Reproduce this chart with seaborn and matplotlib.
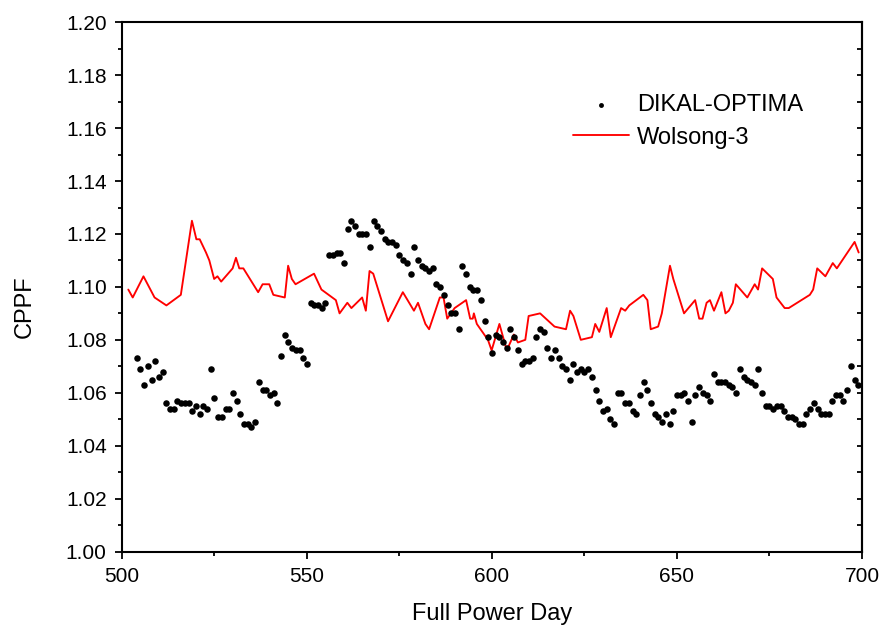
import numpy as np
import pandas as pd
import matplotlib
matplotlib.use("Agg")
import matplotlib.pyplot as plt
import seaborn as sns
from matplotlib.ticker import MultipleLocator, FormatStrFormatter

# DIKAL-OPTIMA: one point per full power day, 504..699
dikal_day = np.arange(504, 700)
dikal_cppf = [
    1.073, 1.069, 1.063, 1.070, 1.065, 1.072, 1.066, 1.068, 1.056, 1.054,
    1.054, 1.057, 1.056, 1.056, 1.056, 1.053, 1.055, 1.052, 1.055, 1.054,
    1.069, 1.058, 1.051, 1.051, 1.054, 1.054, 1.060, 1.057, 1.052, 1.048,
    1.048, 1.047, 1.049, 1.064, 1.061, 1.061, 1.059, 1.060, 1.056, 1.074,
    1.082, 1.079, 1.077, 1.076, 1.076, 1.073, 1.071, 1.094, 1.093, 1.093,
    1.092, 1.094, 1.112, 1.112, 1.113, 1.113, 1.109, 1.122, 1.125, 1.123,
    1.120, 1.120, 1.120, 1.115, 1.125, 1.123, 1.121, 1.118, 1.117, 1.117,
    1.116, 1.112, 1.110, 1.109, 1.105, 1.115, 1.110, 1.108, 1.107, 1.106,
    1.107, 1.101, 1.100, 1.097, 1.093, 1.090, 1.090, 1.084, 1.108, 1.105,
    1.100, 1.099, 1.099, 1.095, 1.087, 1.081, 1.075, 1.082, 1.081, 1.079,
    1.077, 1.084, 1.081, 1.076, 1.071, 1.072, 1.072, 1.073, 1.081, 1.084,
    1.083, 1.077, 1.073, 1.076, 1.073, 1.070, 1.069, 1.065, 1.071, 1.068,
    1.069, 1.068, 1.069, 1.066, 1.061, 1.057, 1.053, 1.054, 1.050, 1.048,
    1.060, 1.060, 1.056, 1.056, 1.053, 1.052, 1.059, 1.064, 1.061, 1.056,
    1.052, 1.051, 1.049, 1.052, 1.048, 1.053, 1.059, 1.059, 1.060, 1.057,
    1.049, 1.059, 1.062, 1.060, 1.059, 1.057, 1.067, 1.064, 1.064, 1.064,
    1.063, 1.062, 1.060, 1.069, 1.066, 1.065, 1.064, 1.063, 1.069, 1.060,
    1.055, 1.055, 1.054, 1.055, 1.055, 1.053, 1.051, 1.051, 1.050, 1.048,
    1.048, 1.052, 1.054, 1.056, 1.054, 1.052, 1.052, 1.052, 1.057, 1.059,
    1.059, 1.057, 1.061, 1.070, 1.065, 1.063,
]

# Wolsong-3 measured CPPF
wolsong_day = [
    501.7, 502.9, 505.8, 508.8, 512.0, 515.9, 518.9, 520.1, 521.0, 522.7,
    523.6, 524.9, 525.8, 526.8, 529.9, 530.8, 531.7, 532.8, 536.8, 538.0,
    539.8, 540.9, 544.0, 544.9, 545.9, 546.9, 551.9, 553.9, 557.8, 558.8,
    560.9, 562.0, 564.9, 565.9, 566.9, 567.9, 571.9, 575.9, 578.9, 580.0,
    582.0, 583.0, 585.9, 586.9, 587.9, 589.9, 593.0, 594.1, 594.8, 595.1,
    595.9, 598.9, 599.9, 602.0, 604.0, 605.9, 607.0, 609.0, 609.9, 613.0,
    616.9, 620.0, 621.1, 622.0, 624.0, 627.0, 627.9, 629.0, 631.0, 632.1,
    634.9, 636.0, 637.1, 640.9, 642.0, 642.9, 644.9, 645.9, 648.1, 649.0,
    651.9, 654.9, 656.0, 656.9, 658.0, 658.9, 660.0, 662.0, 663.1, 664.0,
    665.1, 665.9, 669.0, 671.0, 671.9, 673.0, 675.9, 676.9, 679.1, 680.2,
    685.9, 686.8, 687.9, 690.1, 692.1, 693.2, 698.0, 699.1,
]
wolsong_cppf = [
    1.099, 1.096, 1.104, 1.096, 1.093, 1.097, 1.125, 1.118, 1.118, 1.113,
    1.110, 1.103, 1.104, 1.102, 1.107, 1.111, 1.107, 1.107, 1.098, 1.101,
    1.101, 1.097, 1.096, 1.108, 1.103, 1.101, 1.105, 1.099, 1.095, 1.090,
    1.094, 1.092, 1.096, 1.091, 1.106, 1.105, 1.087, 1.098, 1.091, 1.094,
    1.086, 1.084, 1.096, 1.096, 1.088, 1.092, 1.095, 1.088, 1.088, 1.090,
    1.086, 1.080, 1.076, 1.086, 1.076, 1.082, 1.079, 1.080, 1.089, 1.090,
    1.085, 1.084, 1.091, 1.089, 1.080, 1.081, 1.086, 1.083, 1.092, 1.081,
    1.092, 1.091, 1.093, 1.097, 1.095, 1.084, 1.085, 1.090, 1.108, 1.103,
    1.090, 1.095, 1.088, 1.088, 1.094, 1.095, 1.091, 1.098, 1.090, 1.091,
    1.094, 1.101, 1.096, 1.101, 1.099, 1.107, 1.103, 1.096, 1.092, 1.092,
    1.097, 1.099, 1.107, 1.104, 1.109, 1.107, 1.117, 1.113,
]

sns.set_style("white")
plt.rcParams["font.family"] = ["Liberation Sans", "DejaVu Sans"]
plt.rcParams["text.color"] = "black"
plt.rcParams["axes.labelcolor"] = "black"
plt.rcParams["xtick.color"] = "black"
plt.rcParams["ytick.color"] = "black"

fig = plt.figure(figsize=(8.85, 6.33), dpi=100)
ax = fig.add_axes([122 / 885, 1 - 551.5 / 633, 740 / 885, 529.2 / 633])

sns.scatterplot(x=dikal_day, y=dikal_cppf, color="black", s=22, linewidth=0,
                label="DIKAL-OPTIMA", ax=ax, zorder=3)
sns.lineplot(x=wolsong_day, y=wolsong_cppf, color="#ff0000", linewidth=1.35,
             label="Wolsong-3", ax=ax, errorbar=None, zorder=2)

ax.set_xlim(500, 700)
ax.set_ylim(1.00, 1.20)
ax.xaxis.set_major_locator(MultipleLocator(50))
ax.xaxis.set_minor_locator(MultipleLocator(25))
ax.yaxis.set_major_locator(MultipleLocator(0.02))
ax.yaxis.set_minor_locator(MultipleLocator(0.01))
ax.yaxis.set_major_formatter(FormatStrFormatter("%.2f"))

for s in ax.spines.values():
    s.set_linewidth(1.5)
    s.set_color("black")
ax.tick_params(which="both", bottom=True, left=True, top=False, right=False)
ax.tick_params(which="major", direction="out", length=5, width=1.3,
               labelsize=15, pad=6, colors="black")
ax.tick_params(which="minor", direction="out", length=3, width=1.3,
               colors="black")

# mirrored ticks pointing inward on the right
right = ax.secondary_yaxis("right")
right.yaxis.set_major_locator(MultipleLocator(0.01))
right.tick_params(right=True, direction="in", length=3.5, width=1.3,
                  labelright=False, colors="black")
right.spines["right"].set_linewidth(1.5)

ax.set_xlabel("Full Power Day", fontsize=17)
ax.set_ylabel("CPPF", fontsize=17)
ax.xaxis.set_label_coords(0.5, -0.098)
ax.yaxis.set_label_coords(-0.117, 0.462)

leg = ax.legend(loc="upper left", bbox_to_anchor=(572.7 / 885, 1 - 94 / 633),
                bbox_transform=fig.transFigure, frameon=False, fontsize=17,
                handlelength=2.4, handletextpad=0.32, labelspacing=0.45,
                borderpad=0, borderaxespad=0, markerscale=0.75)
for t in leg.get_texts():
    t.set_color("black")

fig.savefig("out.png", dpi=100)
